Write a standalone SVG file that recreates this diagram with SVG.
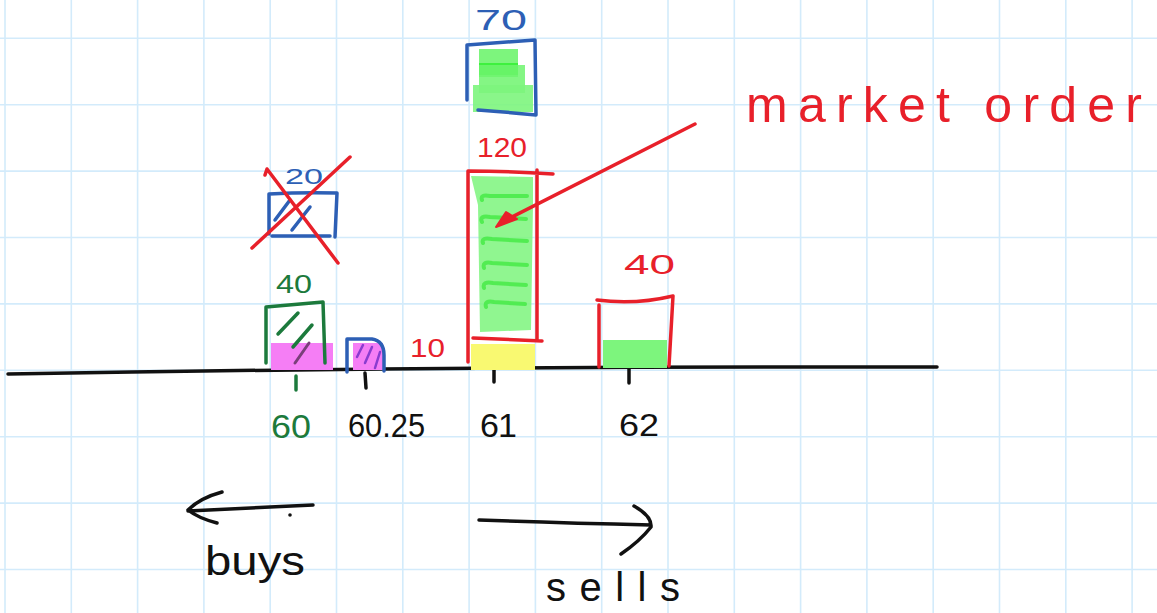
<svg xmlns="http://www.w3.org/2000/svg" width="1157" height="613" viewBox="0 0 1157 613">
<style>
.pen{fill:none;stroke-linecap:round;stroke-linejoin:round;stroke-width:3.5}
.red{stroke:#e8202a}.blue{stroke:#2d5fb5}.dg{stroke:#1c7a3c}.blk{stroke:#111}
.t{font-family:"Liberation Sans",Arial,sans-serif}
.hl{fill:#7df57d;opacity:0.85}
.stripe{fill:none;stroke:#38e838;stroke-width:4;stroke-linecap:round}
</style>
<rect width="1157" height="613" fill="#ffffff"/>
<g id="grid" stroke="#d3ebfb" stroke-width="1.6" fill="none">
<path d="M5 0V613M71.3 0V613M137.6 0V613M203.9 0V613M270.2 0V613M336.5 0V613M402.8 0V613M469.1 0V613M535.4 0V613M601.7 0V613M668 0V613M734.3 0V613M800.6 0V613M866.9 0V613M933.2 0V613M999.5 0V613M1065.8 0V613M1132.1 0V613"/>
<path d="M0 38.3H1157M0 104.7H1157M0 171.1H1157M0 237.5H1157M0 303.9H1157M0 370.3H1157M0 436.7H1157M0 503.1H1157M0 569.5H1157"/>
</g>

<g id="axis">
<path class="pen blk" d="M8 374 Q470 366 937 367"/>
<path class="pen dg" d="M296 376 L296 390"/>
<path class="pen blk" d="M365 373 L366 388"/>
<path class="pen blk" d="M494 364 L494 382"/>
<path class="pen blk" d="M629 365 L629 383"/>
<text class="t" x="271" y="438" font-size="34" fill="#1c7a3c" textLength="40" lengthAdjust="spacingAndGlyphs">60</text>
<text class="t" x="348" y="437" font-size="34" fill="#111" textLength="77" lengthAdjust="spacingAndGlyphs">60.25</text>
<text class="t" x="480" y="437" font-size="34" fill="#111" textLength="37" lengthAdjust="spacing">61</text>
<text class="t" x="619" y="436" font-size="32" fill="#111" textLength="40" lengthAdjust="spacingAndGlyphs">62</text>
</g>

<g id="bid-60-cancelled">
<path class="pen blue" d="M269 194 L269 234 M269 194 Q303 192 337 193 L335 237 M272 236 L330 236"/>
<path class="pen blue" d="M275 220 L290 200 M292 230 L310 207" stroke-width="2.5"/>
<text class="t" x="285" y="184" font-size="22" fill="#2d5fb5" textLength="38" lengthAdjust="spacingAndGlyphs">20</text>
<path class="pen red" d="M265 175 L267 169 L338 263 M350 157 L252 248" stroke-width="3"/>
</g>

<g id="bid-60">
<rect x="271" y="343" width="62" height="27" fill="#f57ef5"/>
<path class="pen dg" d="M266 363 L266 307 L323 302 L325 363"/>
<path class="pen dg" d="M278 334 L298 313 M293 347 L312 325" stroke-width="3"/>
<path d="M295 363 L309 343" fill="none" stroke="#7a3f7a" stroke-width="3" stroke-linecap="round"/>
<text class="t" x="276" y="293" font-size="26" fill="#1c7a3c" textLength="36" lengthAdjust="spacingAndGlyphs">40</text>
</g>

<g id="bid-60-25">
<rect x="353" y="343" width="30" height="27" fill="#f57ef5"/>
<path class="pen blue" d="M347 372 L347 339 L372 339 Q384 341 384 355 L384 371" stroke-width="3"/>
<path d="M357 357 L363 345 M365 363 L372 347 M375 368 L380 352" fill="none" stroke="#8a3ccf" stroke-width="2.5" stroke-linecap="round"/>
</g>

<g id="label-10">
<text class="t" x="410" y="357" font-size="26" fill="#e8202a" textLength="35" lengthAdjust="spacingAndGlyphs">10</text>
</g>

<g id="ask-61">
<rect x="471" y="344" width="64" height="26" fill="#f9f971"/>
<path class="hl" d="M471 176 L533 177 L533 205 L531 330 L480 332 L478 205 Z"/>
<path class="stripe" d="M482 200 Q480 194 490 196 L527 196 M482 222 Q479 215 490 217 L526 219 M483 243 Q481 237 492 239 L527 241 M484 268 Q482 261 492 263 L527 265 M484 288 Q482 281 493 283 L526 285 M486 307 Q484 300 494 302 L525 304" opacity="0.7"/>
<path class="pen red" d="M468 362 L468 171 Q510 171 553 174 M537 170 L537 340 M473 338 L542 341"/>
<text class="t" x="477" y="157" font-size="27" fill="#e8202a" textLength="50" lengthAdjust="spacingAndGlyphs">120</text>
</g>

<g id="ask-61-top">
<rect x="479" y="49" width="39" height="28" fill="#7df57d"/>
<rect x="479" y="63" width="39" height="12" fill="#2ef02e" opacity="0.8"/>
<rect x="479" y="65" width="46" height="28" fill="#6ef56e" opacity="0.85"/>
<rect x="473" y="85" width="60" height="27" fill="#7df57d" opacity="0.9"/>
<path class="pen blue" d="M467 100 L467 45 L535 40 L536 115 Q505 112 478 110"/>
<text class="t" x="475" y="30" font-size="30" fill="#2d5fb5" textLength="52" lengthAdjust="spacingAndGlyphs">70</text>
</g>

<g id="ask-62">
<rect x="603" y="340" width="64" height="28" fill="#7df57d"/>
<path class="pen red" d="M599 367 L599 305 M597 300 Q635 305 673 296 L669 366"/>
<text class="t" x="624" y="274" font-size="28" fill="#e8202a" textLength="51" lengthAdjust="spacingAndGlyphs">40</text>
</g>

<g id="market-order">
<text class="t" x="746" y="122" font-size="50" fill="#e8202a" textLength="396" lengthAdjust="spacing">market order</text>
</g>

<g id="connectors">
<path class="pen red" d="M695 124 L502 222" stroke-width="3"/>
<polygon points="496,227 506,212 517,219" fill="#e8202a" stroke="#e8202a" stroke-width="2" stroke-linejoin="round"/>
<path class="pen blk" d="M313 505 L188 511 M222 492 Q200 498 188 510 Q198 518 217 523"/>
<circle cx="290" cy="515" r="1.8" fill="#111"/>
<path class="pen blk" d="M479 520 Q560 523 651 525 M634 506 Q652 516 651 527 Q640 541 621 554"/>
</g>

<g id="labels-sides">
<text class="t" x="205" y="575" font-size="40" fill="#111" textLength="100" lengthAdjust="spacingAndGlyphs">buys</text>
<text class="t" x="546" y="601" font-size="40" fill="#111" textLength="134" lengthAdjust="spacing">sells</text>
</g>
</svg>
